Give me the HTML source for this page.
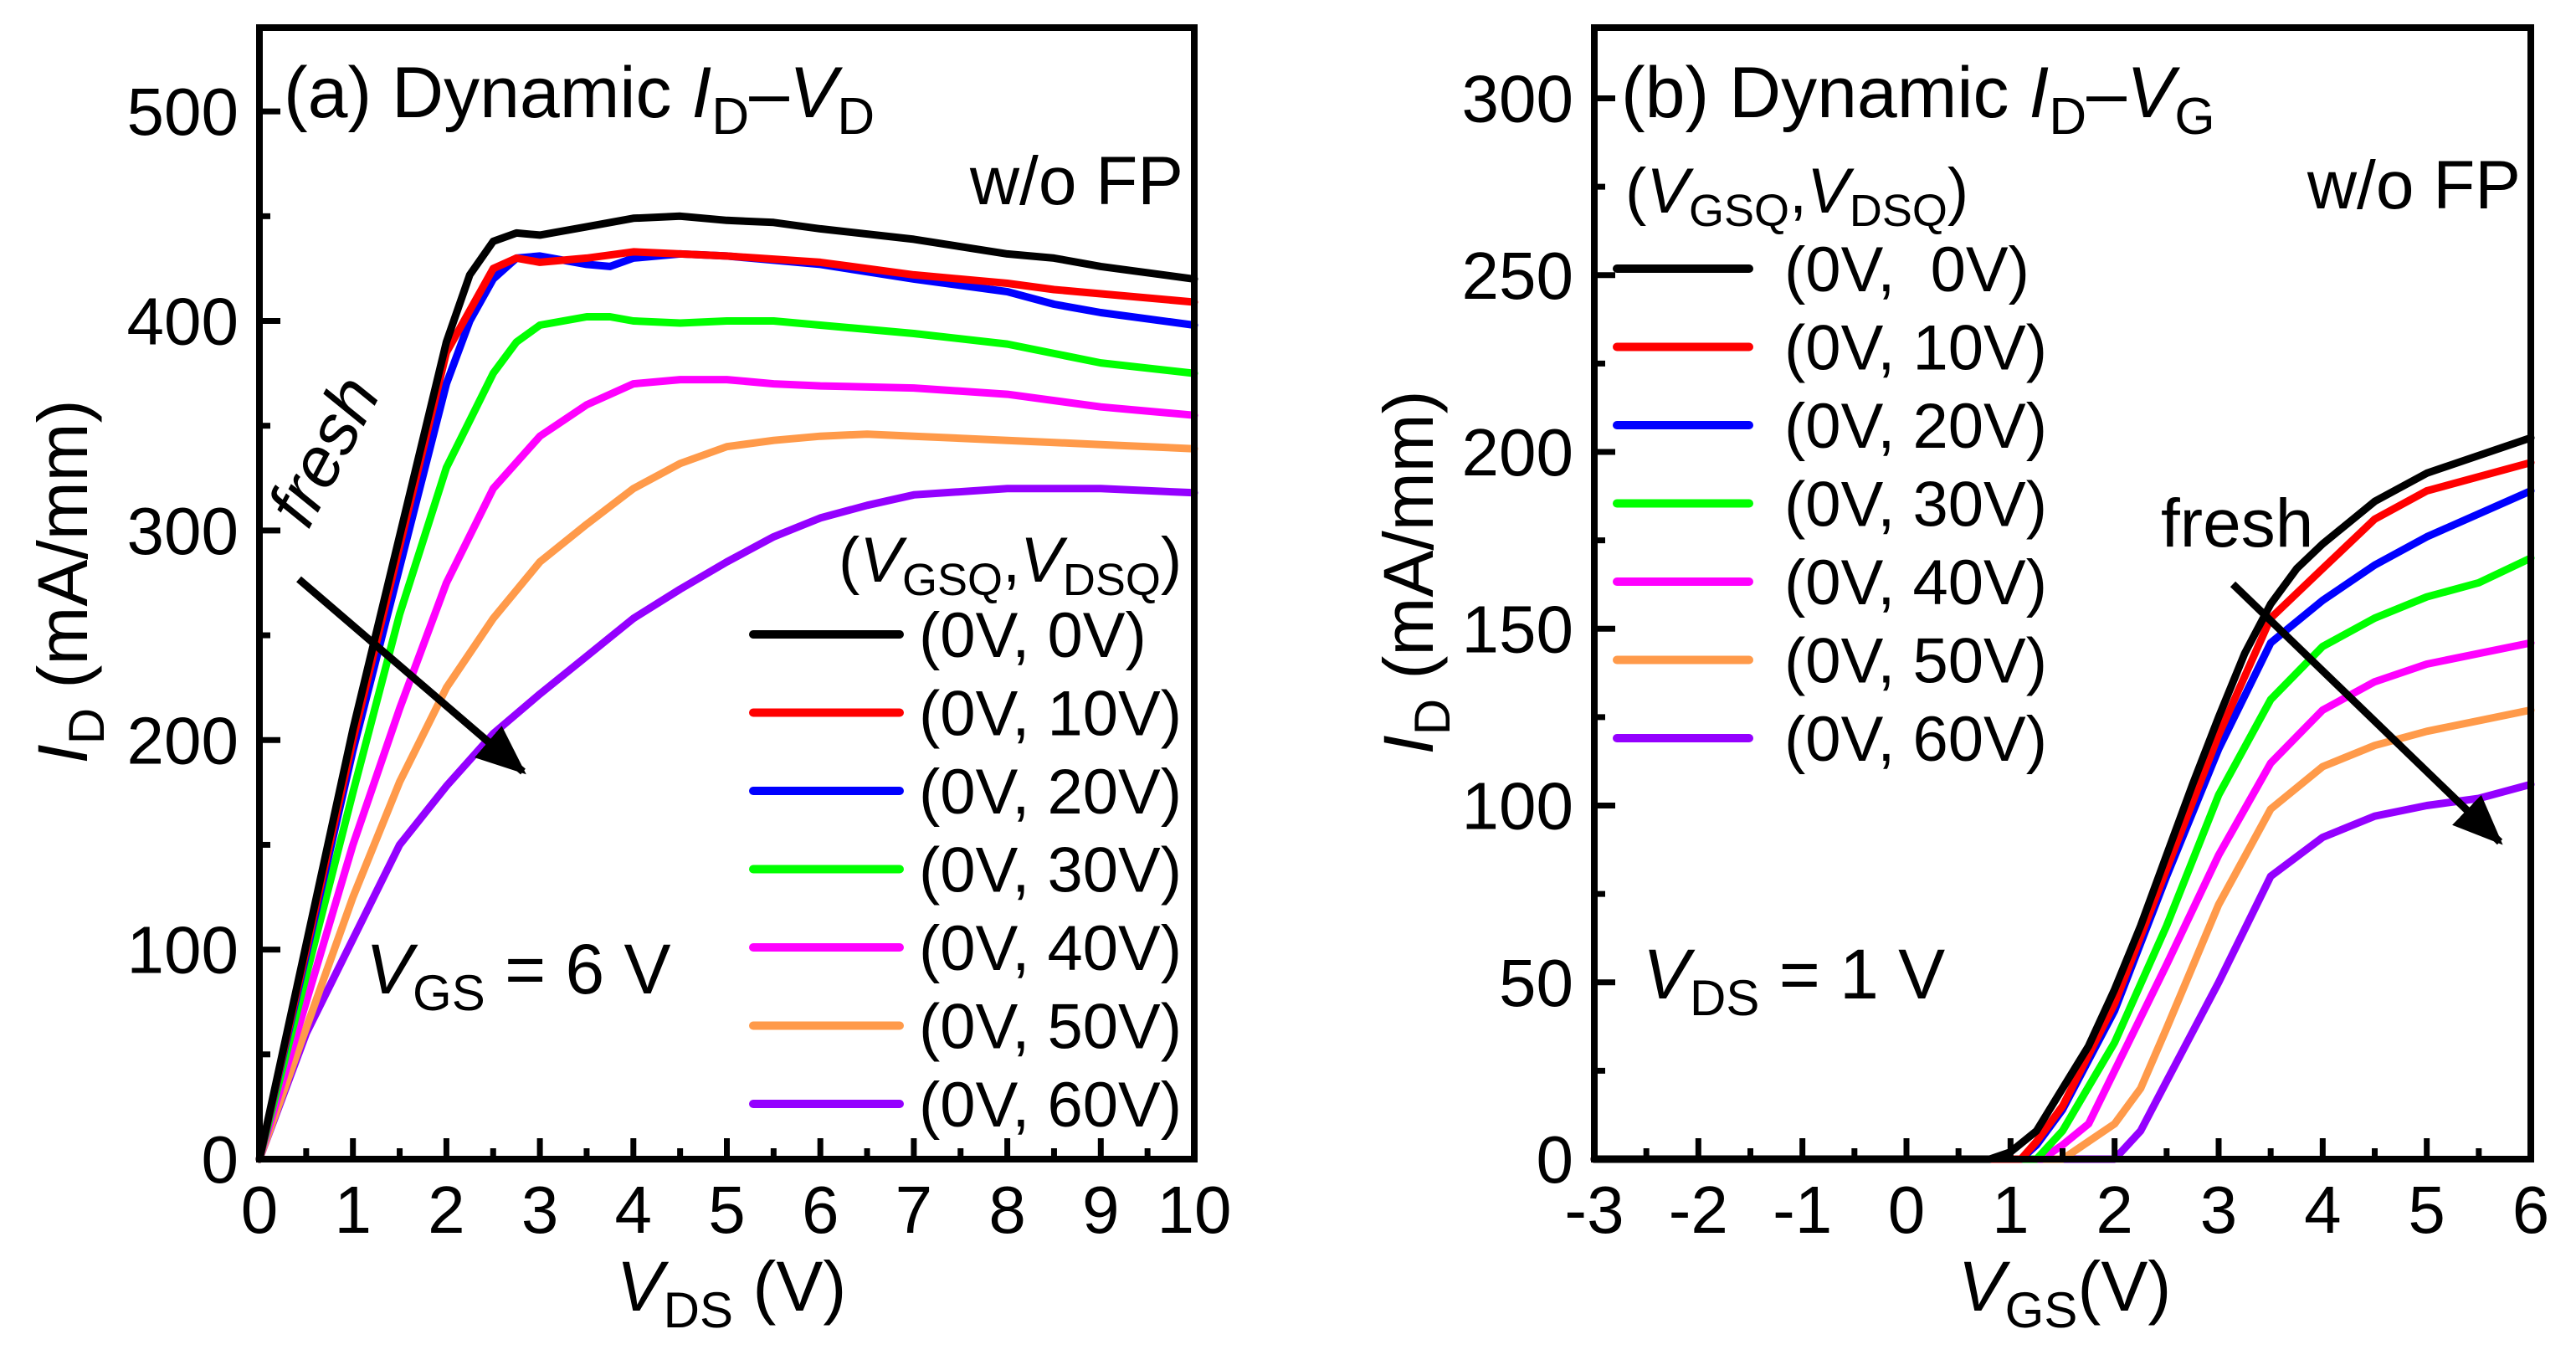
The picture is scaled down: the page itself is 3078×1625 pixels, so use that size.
<!DOCTYPE html>
<html><head><meta charset="utf-8"><style>
html,body{margin:0;padding:0;background:#fff;}
svg{display:block;font-family:"Liberation Sans",Arial,sans-serif;}
</style></head><body>
<svg id="chart" width="3078" height="1625" viewBox="0 0 3078 1625" xmlns="http://www.w3.org/2000/svg">
<g id="pa"></g>
<g id="pb"></g>
</svg>
<script>
const colors=["#000000","#ff0000","#0000ff","#00ff00","#ff00ff","#ff9a4a","#9400ff"];
const seriesLabels=["(0V, 0V)","(0V, 10V)","(0V, 20V)","(0V, 30V)","(0V, 40V)","(0V, 50V)","(0V, 60V)"];
const seriesLabelsB=["(0V,  0V)","(0V, 10V)","(0V, 20V)","(0V, 30V)","(0V, 40V)","(0V, 50V)","(0V, 60V)"];
// Panel a: VDS values and ID per series
const aX=[[0,1,2,2.25,2.5,2.75,3,3.5,4,4.5,5,5.5,6,7,8,8.5,9,10],
 [0,1,2,2.5,2.75,3,3.5,4,4.5,5,6,7,8,8.5,9,10],
 [0,1,2,2.25,2.5,2.75,3,3.5,3.75,4,4.5,5,6,7,8,8.5,9,10],
 [0,1,1.5,2,2.5,2.75,3,3.5,3.75,4,4.5,5,5.5,6,7,8,9,10],
 [0,1,1.5,2,2.5,3,3.5,4,4.5,5,5.5,6,7,8,9,10],
 [0,1,1.5,2,2.5,3,3.5,4,4.5,5,5.5,6,6.5,7,8,9,10],
 [0,0.5,1,1.5,2,2.5,3,3.5,4,4.5,5,5.5,6,6.5,7,8,9,10]];
const aY=[[0,205,390,422,438,442,441,445,449,450,448,447,444,439,432,430,426,420],
 [0,200,385,425,430,428,430,433,432,431,428,422,418,415,413,409],
 [0,195,370,400,420,430,431,427,426,430,432,431,427,420,414,408,404,398],
 [0,175,260,330,375,390,398,402,402,400,399,400,400,398,394,389,380,375],
 [0,150,215,275,320,345,360,370,372,372,370,369,368,365,359,355],
 [0,125,180,225,258,285,303,320,332,340,343,345,346,345,343,341,339],
 [0,60,105,150,178,203,222,240,258,272,285,297,306,312,317,320,320,318]];
// Panel b: VGS values and ID per series
const bX=[[-3,0.8,1,1.25,1.5,1.75,2,2.25,2.5,2.75,3,3.25,3.5,3.75,4,4.5,5,5.5,6],
 [-3,1.1,1.25,1.5,2,2.5,3,3.5,4,4.5,5,6],
 [-3,1.1,1.25,1.5,2,2.5,3,3.5,4,4.5,5,6],
 [-3,1.25,1.5,2,2.5,3,3.5,4,4.5,5,5.5,6],
 [-3,1.3,1.5,1.75,2,2.5,3,3.5,4,4.5,5,6],
 [-3,1.5,1.75,2,2.25,2.5,3,3.5,4,4.5,5,5.5,6],
 [-3,2,2.25,2.5,3,3.5,4,4.5,5,5.5,6]];
const bY=[[0,0,2,8,20,32,48,66,86,106,125,143,157,167,174,186,194,199,204],
 [0,0,5,15,44,82,120,153,167,181,189,197],
 [0,0,4,14,42,80,116,146,158,168,176,189],
 [0,0,8,33,66,103,130,145,153,159,163,170],
 [0,0,4,10,25,55,86,112,127,135,140,146],
 [0,0,5,10,20,37,72,99,111,117,121,124,127],
 [0,0,8,22,50,80,91,97,100,102,106]];
const aXTicks=[0,1,2,3,4,5,6,7,8,9,10];
const aYTicks=[0,100,200,300,400,500];
const bXTicks=[-3,-2,-1,0,1,2,3,4,5,6];
const bYTicks=[0,50,100,150,200,250,300];

const NS="http://www.w3.org/2000/svg";
function mk(parent,tag,attrs,text){const e=document.createElementNS(NS,tag);for(const k in attrs)e.setAttribute(k,attrs[k]);if(text!==undefined)e.textContent=text;parent.appendChild(e);return e;}

function panel(g,cfg){
  const sx=v=>cfg.x0+(v-cfg.xmin)/(cfg.xmax-cfg.xmin)*(cfg.x1-cfg.x0);
  const sy=v=>cfg.y0-(v-cfg.ymin)/(cfg.ymax-cfg.ymin)*(cfg.y0-cfg.y1);
  const sg=mk(g,'g',{});
  
  
  for(let i=cfg.X.length-1;i>=0;i--){
    const pts=cfg.X[i].map((x,j)=>sx(x).toFixed(1)+','+sy(cfg.Y[i][j]).toFixed(1)).join(' ');
    const p=mk(sg,'polyline',{points:pts,fill:'none',stroke:colors[i],'stroke-width':9,'stroke-linejoin':'round','stroke-linecap':'round'});
    
    
  }
  const tg=mk(g,'g',{stroke:'#000','stroke-width':7});
  
  
  cfg.xt.forEach((v,k)=>{
    mk(tg,'line',{x1:sx(v),x2:sx(v),y1:cfg.y0,y2:cfg.y0-25});
    if(k<cfg.xt.length-1){const m=(v+cfg.xt[k+1])/2;mk(tg,'line',{x1:sx(m),x2:sx(m),y1:cfg.y0,y2:cfg.y0-13});}
    const t=mk(g,'text',{x:sx(v),y:1473,'font-size':80,'text-anchor':'middle'},String(v));
    
    
  });
  cfg.yt.forEach((v,k)=>{
    mk(tg,'line',{x1:cfg.x0,x2:cfg.x0+25,y1:sy(v),y2:sy(v)});
    const m=v+cfg.ystep/2; if(m<cfg.ymax) mk(tg,'line',{x1:cfg.x0,x2:cfg.x0+13,y1:sy(m),y2:sy(m)});
    const t=mk(g,'text',{x:cfg.x0-25,y:sy(v)+28,'font-size':80,'text-anchor':'end'},String(v));
    
    
  });
  const fr=mk(g,'rect',{x:cfg.x0,y:cfg.y1,width:cfg.x1-cfg.x0,height:cfg.y0-cfg.y1,fill:'none',stroke:'#000','stroke-width':8});
  
  
  const lg=mk(g,'g',{});
  
  
  cfg.labels.forEach((l,i)=>{
    const y=cfg.ly+i*93.5;
    const ln=mk(lg,'line',{x1:cfg.lx1,x2:cfg.lx2,y1:y,y2:y,stroke:colors[i],'stroke-width':10,'stroke-linecap':'round'});
    
    
    const t=mk(lg,'text',{x:cfg.ltx,y:y+27,'font-size':76,'xml:space':'preserve'},l);
    t.style.whiteSpace='pre';
    
    
  });
  return {sx,sy};
}
const A=panel(document.getElementById('pa'),{x0:310,x1:1427,y0:1385,y1:33,xmin:0,xmax:10,ymin:0,ymax:540,xt:aXTicks,yt:aYTicks,ystep:100,X:aX,Y:aY,labels:seriesLabels,lx1:900,lx2:1075,ly:758,ltx:1098});
const B=panel(document.getElementById('pb'),{x0:1905,x1:3024,y0:1385,y1:33,xmin:-3,xmax:6,ymin:0,ymax:320,xt:bXTicks,yt:bYTicks,ystep:50,X:bX,Y:bY,labels:seriesLabelsB,lx1:1932,lx2:2090,ly:321,ltx:2132});
</script>
<script>
(function(){
const svg=document.getElementById('chart');
const html=`
<defs><marker id="ah" markerWidth="60" markerHeight="50" refX="55" refY="25" orient="auto" markerUnits="userSpaceOnUse" viewBox="0 0 60 50"><path d="M0,0 L60,25 L0,50 Z" fill="#000"/></marker></defs>
<g font-size="78" fill="#000">
<text x="339" y="140" font-size="86">(a) Dynamic <tspan font-style="italic">I</tspan><tspan font-size="62" dy="20">D</tspan><tspan dy="-20">–</tspan><tspan font-style="italic">V</tspan><tspan font-size="62" dy="20">D</tspan></text>
<text x="1414" y="244" text-anchor="end" font-size="82">w/o FP</text>
<text x="1002" y="695" font-size="76">(<tspan font-style="italic">V</tspan><tspan font-size="54" dy="16">GSQ</tspan><tspan dy="-16">,</tspan><tspan font-style="italic">V</tspan><tspan font-size="54" dy="16">DSQ</tspan><tspan dy="-16">)</tspan></text>
<text x="0" y="0" font-style="italic" font-size="84" text-anchor="middle" transform="translate(412,552) rotate(-62)">fresh</text>
<text x="437" y="1187" font-size="84"><tspan font-style="italic">V</tspan><tspan font-size="60" dy="20">GS</tspan><tspan dy="-20"> = 6 V</tspan></text>
<text x="874" y="1566" text-anchor="middle" font-size="84"><tspan font-style="italic">V</tspan><tspan font-size="60" dy="20">DS</tspan><tspan dy="-20"> (V)</tspan></text>
<text x="0" y="0" text-anchor="middle" font-size="84" transform="translate(104,695) rotate(-90)"><tspan font-style="italic">I</tspan><tspan font-size="60" dy="20">D</tspan><tspan dy="-20"> (mA/mm)</tspan></text>
<line x1="357" y1="692" x2="625" y2="922" stroke="#000" stroke-width="9" marker-end="url(#ah)"/>
<text x="1937" y="140" font-size="86">(b) Dynamic <tspan font-style="italic">I</tspan><tspan font-size="62" dy="20">D</tspan><tspan dy="-20">–</tspan><tspan font-style="italic">V</tspan><tspan font-size="62" dy="20">G</tspan></text>
<text x="3012" y="249" text-anchor="end" font-size="82">w/o FP</text>
<text x="1942" y="254" font-size="76">(<tspan font-style="italic">V</tspan><tspan font-size="54" dy="16">GSQ</tspan><tspan dy="-16">,</tspan><tspan font-style="italic">V</tspan><tspan font-size="54" dy="16">DSQ</tspan><tspan dy="-16">)</tspan></text>
<text x="2582" y="653" font-size="82">fresh</text>
<text x="1963" y="1193" font-size="84"><tspan font-style="italic">V</tspan><tspan font-size="60" dy="20">DS</tspan><tspan dy="-20"> = 1 V</tspan></text>
<text x="2467" y="1566" text-anchor="middle" font-size="84"><tspan font-style="italic">V</tspan><tspan font-size="60" dy="20">GS</tspan><tspan dy="-20">(V)</tspan></text>
<text x="0" y="0" text-anchor="middle" font-size="84" transform="translate(1712,684) rotate(-90)"><tspan font-style="italic">I</tspan><tspan font-size="60" dy="20">D</tspan><tspan dy="-20"> (mA/mm)</tspan></text>
<line x1="2668" y1="698" x2="2987" y2="1006" stroke="#000" stroke-width="9" marker-end="url(#ah)"/>
</g>`;
svg.insertAdjacentHTML('beforeend',html);
})();
</script>
</body></html>
